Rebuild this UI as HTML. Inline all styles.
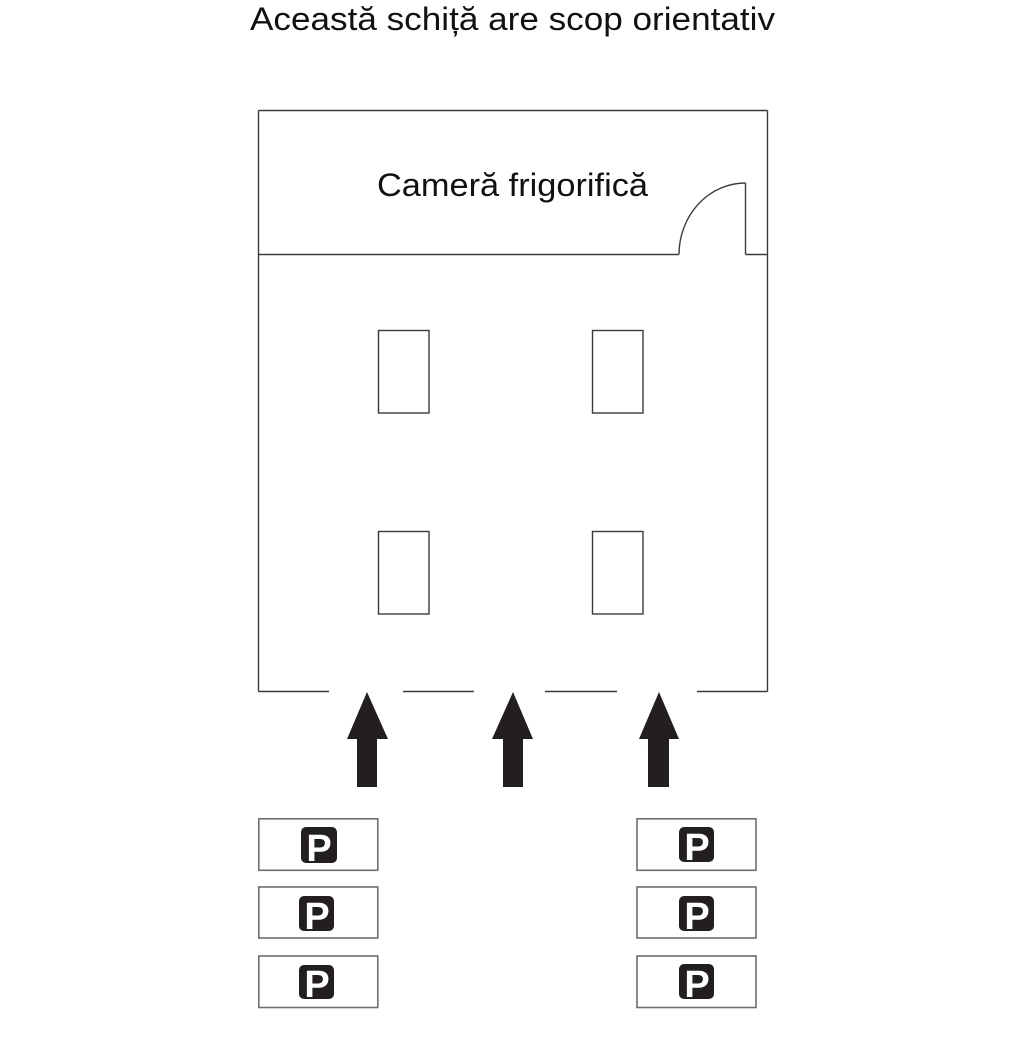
<!DOCTYPE html>
<html>
<head>
<meta charset="utf-8">
<style>
  html,body{margin:0;padding:0;background:#fff;}
  svg{display:block;}
  text{font-family:"Liberation Sans", "DejaVu Sans", sans-serif;}
</style>
</head>
<body>
<svg width="1025" height="1058" viewBox="0 0 1025 1058" xmlns="http://www.w3.org/2000/svg">
  <rect x="0" y="0" width="1025" height="1058" fill="#ffffff"/>

  <!-- Title -->
  <text x="250" y="30" font-size="32" fill="#111" textLength="525" lengthAdjust="spacingAndGlyphs">Această schiță are scop orientativ</text>

  <!-- Building outline -->
  <g fill="none" stroke="#3a3a3a" stroke-width="1.4">
    <line x1="258.5" y1="110.5" x2="767.5" y2="110.5"/>
    <line x1="258.5" y1="110.5" x2="258.5" y2="691.5"/>
    <line x1="767.5" y1="110.5" x2="767.5" y2="691.5"/>
    <line x1="258.5" y1="254.5" x2="679" y2="254.5"/>
    <line x1="745.5" y1="254.5" x2="767.5" y2="254.5"/>
    <line x1="745.5" y1="183" x2="745.5" y2="254.5"/>
    <path d="M679 254.5 A66.5 71.5 0 0 1 745.5 183"/>
    <line x1="258.5" y1="691.5" x2="329" y2="691.5"/>
    <line x1="403" y1="691.5" x2="474" y2="691.5"/>
    <line x1="545" y1="691.5" x2="617" y2="691.5"/>
    <line x1="697" y1="691.5" x2="767.5" y2="691.5"/>
    <rect x="378.5" y="330.5" width="50.5" height="82.5"/>
    <rect x="592.5" y="330.5" width="50.5" height="82.5"/>
    <rect x="378.5" y="531.5" width="50.5" height="82.5"/>
    <rect x="592.5" y="531.5" width="50.5" height="82.5"/>
  </g>

  <text x="377" y="196" font-size="32" fill="#111" textLength="271" lengthAdjust="spacingAndGlyphs">Cameră frigorifică</text>

  <!-- Arrows -->
  <g fill="#231f20">
    <polygon points="367,692 388,739 377,739 377,787 357,787 357,739 347,739"/>
    <polygon points="513,692 533,739 523,739 523,787 503,787 503,739 492,739"/>
    <polygon points="659,692 679,739 669,739 669,787 648,787 648,739 639,739"/>
  </g>

  <!-- Parking boxes -->
  <g fill="none" stroke="#6e6e6e" stroke-width="1.6">
    <rect x="258.8" y="818.8" width="119" height="51.5"/>
    <rect x="258.8" y="887" width="119" height="51"/>
    <rect x="258.8" y="956" width="119" height="51.5"/>
    <rect x="637" y="818.8" width="119" height="51.5"/>
    <rect x="637" y="887" width="119" height="51"/>
    <rect x="637" y="956" width="119" height="51.5"/>
  </g>

  <g fill="#231f20">
    <rect x="301" y="827" width="36" height="36" rx="5"/>
    <rect x="299" y="896" width="35" height="35" rx="5"/>
    <rect x="299" y="965" width="35" height="34" rx="5"/>
    <rect x="679" y="827" width="35" height="35" rx="5"/>
    <rect x="679" y="896" width="35" height="35" rx="5"/>
    <rect x="679" y="964" width="35" height="35" rx="5"/>
  </g>
  <g fill="#ffffff" font-size="38" font-weight="bold" text-anchor="middle">
    <text x="319" y="861">P</text>
    <text x="317" y="929">P</text>
    <text x="317" y="997">P</text>
    <text x="697" y="860">P</text>
    <text x="697" y="929">P</text>
    <text x="697" y="997">P</text>
  </g>
</svg>
</body>
</html>
